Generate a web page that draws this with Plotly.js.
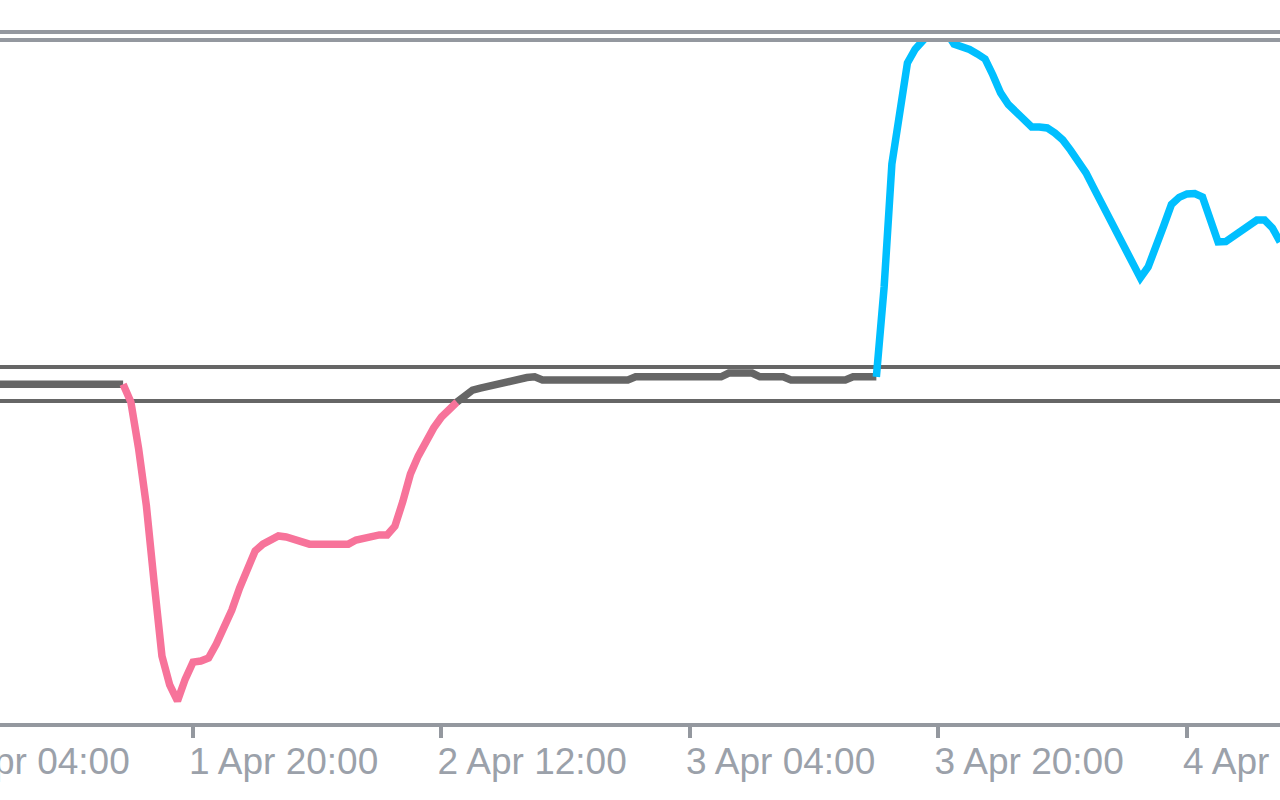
<!DOCTYPE html>
<html>
<head>
<meta charset="utf-8">
<script src="https://cdn.plot.ly/plotly-3.0.1.min.js"></script>
<style>
  html, body { margin: 0; padding: 0; width: 1280px; height: 800px; overflow: hidden; background: #ffffff; }
  #chart { position: absolute; left: -80px; top: 0; width: 1360px; height: 800px; }
</style>
</head>
<body>
<div id="chart"></div>
<script>
// Half-hourly indicator readings, starting 1 Apr 07:30
const startTime = '2024-04-01T07:30:00';
const stepMinutes = 30;
const indicatorValues = [
  -0.1, -0.1, -0.1, -0.1, -0.1, -0.1, -0.1, -0.1, -0.1, -0.1,
  -0.1, -0.1, -0.1, -0.1, -0.1, -0.1, -0.1, -5.3, -19.1, -35.9,
  -58.5, -80.0, -88.5, -93.2, -86.8, -81.8, -81.5, -80.6, -76.5, -72.1,
  -66.5, -60.0, -54.1, -49.1, -47.1, -45.6, -44.7, -45.0, -45.6, -46.2,
  -47.1, -47.1, -47.1, -47.1, -47.1, -47.1, -45.9, -45.3, -44.7, -44.4,
  -44.4, -41.8, -34.7, -26.5, -21.2, -16.8, -12.9, -9.7, -7.4, -5.3,
  -3.2, -1.8, -1.2, -0.6, 0.0, 0.3, 1.2, 1.5, 1.9, 2.1,
  1.2, 1.2, 1.2, 1.2, 1.2, 1.2, 1.2, 1.2, 1.2, 1.2,
  1.2, 1.2, 2.1, 2.1, 2.1, 2.1, 2.1, 2.1, 2.1, 2.1,
  2.1, 2.1, 2.1, 2.1, 3.2, 3.2, 3.2, 3.2, 2.1, 2.1,
  2.1, 2.1, 1.2, 1.2, 1.2, 1.2, 1.2, 1.2, 1.2, 1.2,
  2.1, 2.1, 2.1, 2.1, 28.5, 64.7, 81.5, 94.4, 98.5, 101.2,
  103.5, 104.7, 103.5, 100.0, 99.4, 98.4, 97.1, 95.6, 90.9, 85.6,
  82.2, 80.0, 77.6, 75.6, 75.6, 75.3, 73.8, 71.8, 68.8, 65.7,
  62.1, 57.6, 53.1, 48.5, 44.3, 39.7, 35.4, 31.2, 34.4, 40.0,
  46.5, 52.8, 54.9, 55.9, 56.0, 55.0, 49.1, 41.8, 41.9, 43.5,
  45.6, 47.1, 48.2, 48.2, 45.9, 41.8
];
const upperLevel = 5;
const lowerLevel = -5;
const colorNeutral = '#666666';
const colorBelow = '#f7739a';
const colorAbove = '#00bfff';

// timestamps
const t0 = new Date(startTime + 'Z').getTime();
function fmt(ms) {
  const d = new Date(ms);
  const p = n => String(n).padStart(2, '0');
  return d.getUTCFullYear() + '-' + p(d.getUTCMonth() + 1) + '-' + p(d.getUTCDate()) + ' ' +
         p(d.getUTCHours()) + ':' + p(d.getUTCMinutes());
}
const times = indicatorValues.map((_, i) => fmt(t0 + i * stepMinutes * 60000));

// segment colour follows the value at its end point
function segColor(v) {
  if (v > upperLevel) return colorAbove;
  if (v < lowerLevel) return colorBelow;
  return colorNeutral;
}
const traces = [];
let runStart = 0;
let runColor = segColor(indicatorValues[1]);
for (let k = 2; k <= indicatorValues.length; k++) {
  const c = k < indicatorValues.length ? segColor(indicatorValues[k]) : null;
  if (c !== runColor) {
    traces.push({
      type: 'scatter', mode: 'lines',
      x: times.slice(runStart, k),
      y: indicatorValues.slice(runStart, k),
      line: { color: runColor, width: 7.5 },
      hoverinfo: 'skip', showlegend: false
    });
    runStart = k - 1;
    runColor = c;
  }
}

const frameColor = '#94989f';
const layout = {
  width: 1360, height: 800,
  margin: { l: 0, r: 0, t: 42, b: 77, pad: 0 },
  paper_bgcolor: '#ffffff', plot_bgcolor: '#ffffff',
  showlegend: false,
  xaxis: {
    type: 'date',
    range: ['2024-04-01 02:25:19', '2024-04-04 17:59:24'],
    tick0: '2024-04-01 04:00', dtick: 16 * 3600 * 1000,
    tickformat: '%-d %b %H:%M',
    ticks: 'outside', ticklen: 11, tickwidth: 4, tickcolor: frameColor,
    showline: true, linecolor: frameColor, linewidth: 4,
    showgrid: false, zeroline: false,
    ticklabelposition: 'outside right',
    ticklabeloverflow: 'allow',
    ticklabelshift: -8,
    ticklabelstandoff: 3,
    tickfont: { family: 'Liberation Sans', size: 37, color: '#9ba1aa' },
    fixedrange: true
  },
  yaxis: {
    visible: false,
    range: [-99.71, 100.59],
    showgrid: false, zeroline: false, fixedrange: true
  },
  shapes: [
    { type: 'line', xref: 'paper', x0: 0, x1: 1, yref: 'y', y0: upperLevel, y1: upperLevel,
      line: { color: colorNeutral, width: 4 }, layer: 'below' },
    { type: 'line', xref: 'paper', x0: 0, x1: 1, yref: 'y', y0: lowerLevel, y1: lowerLevel,
      line: { color: colorNeutral, width: 4 }, layer: 'below' },
    { type: 'line', xref: 'paper', x0: 0, x1: 1, yref: 'paper', ysizemode: 'pixel', yanchor: 1, y0: 2, y1: 2,
      line: { color: frameColor, width: 4 } },
    { type: 'line', xref: 'paper', x0: 0, x1: 1, yref: 'paper', ysizemode: 'pixel', yanchor: 1, y0: 10, y1: 10,
      line: { color: frameColor, width: 4 } }
  ]
};

Plotly.newPlot('chart', traces, layout, { staticPlot: true, displayModeBar: false });
</script>
</body>
</html>
